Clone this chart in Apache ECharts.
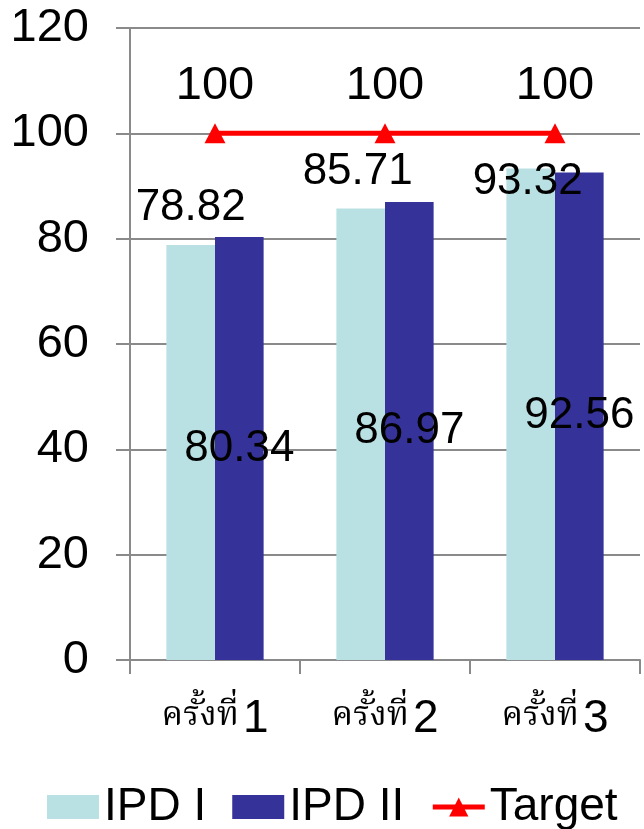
<!DOCTYPE html>
<html>
<head>
<meta charset="utf-8">
<script src="https://cdn.jsdelivr.net/npm/echarts@6/dist/echarts.min.js"></script>
<style>
  html, body { margin: 0; padding: 0; background: #ffffff; }
  #chart { width: 644px; height: 829px; }
</style>
</head>
<body>
<div id="chart"></div>
<script>
// Round labels and the three series plotted per round
const categories = ['ครั้งที่ 1', 'ครั้งที่ 2', 'ครั้งที่ 3'];
const ipd1 = [78.82, 85.71, 93.32];
const ipd2 = [80.34, 86.97, 92.56];
const target = [100, 100, 100];
const yTicks = { min: 0, max: 120, interval: 20 };

const LATIN = '"Liberation Sans", Arial, sans-serif';
const THAI = '"Noto Serif Thai", "Noto Sans Thai", "Loma", "Garuda", serif';
const gridColor = '#8a8a8a';

// IPD I value labels sit above the bar, the last one dips onto the bar top
const ipd1LabelOffsets = [[0, 0], [-3, 0], [-3, 50]];

const chart = echarts.init(document.getElementById('chart'), null, { renderer: 'canvas' });

chart.setOption({
  animation: false,
  backgroundColor: '#ffffff',
  grid: { left: 130, right: 4, top: 28, bottom: 169, containLabel: false },
  legend: {
    left: 42,
    bottom: -6,
    itemWidth: 52,
    itemHeight: 24,
    itemGap: 26,
    textStyle: { fontFamily: LATIN, fontSize: 46, color: '#000000' },
    lineStyle: { width: 5 },
    data: [
      { name: 'IPD I', icon: 'rect' },
      { name: 'IPD II', icon: 'rect' },
      { name: 'Target' }
    ]
  },
  xAxis: {
    type: 'category',
    data: categories,
    boundaryGap: true,
    axisLine: { show: true, lineStyle: { color: gridColor, width: 2 } },
    axisTick: { show: true, length: 14, alignWithLabel: false, lineStyle: { color: gridColor, width: 2 } },
    axisLabel: {
      margin: 36,
      formatter: function (v) {
        const parts = v.split(' ');
        return '{t|' + parts[0] + '}{n|' + parts[1] + '}';
      },
      rich: {
        t: { fontFamily: THAI, fontSize: 34, color: '#000000', padding: [0, 4, 0, 0] },
        n: { fontFamily: LATIN, fontSize: 46, color: '#000000' }
      }
    }
  },
  yAxis: {
    type: 'value',
    min: yTicks.min,
    max: yTicks.max,
    interval: yTicks.interval,
    axisLine: { show: true, lineStyle: { color: gridColor, width: 2 } },
    axisTick: { show: true, length: 14, lineStyle: { color: gridColor, width: 2 } },
    splitLine: { show: true, lineStyle: { color: gridColor, width: 2 } },
    axisLabel: { margin: 41, fontFamily: LATIN, fontSize: 47, color: '#000000' }
  },
  series: [
    {
      name: 'IPD I',
      type: 'bar',
      barWidth: '28.6%',
      barGap: '0%',
      itemStyle: { color: '#b9e0e3' },
      data: ipd1.map(function (v, i) {
        return { value: v, label: { offset: ipd1LabelOffsets[i] } };
      }),
      label: {
        show: true,
        position: 'top',
        distance: 15,
        fontFamily: LATIN,
        fontSize: 44,
        color: '#000000'
      }
    },
    {
      name: 'IPD II',
      type: 'bar',
      barWidth: '28.6%',
      barGap: '0%',
      itemStyle: { color: '#353399' },
      data: ipd2,
      label: {
        show: true,
        position: 'inside',
        fontFamily: LATIN,
        fontSize: 44,
        color: '#000000'
      }
    },
    {
      name: 'Target',
      type: 'line',
      data: target,
      symbol: 'triangle',
      symbolSize: [21, 20],
      lineStyle: { color: '#ff0000', width: 5 },
      itemStyle: { color: '#ff0000' },
      label: {
        show: true,
        position: 'top',
        distance: 14,
        fontFamily: LATIN,
        fontSize: 47,
        color: '#000000'
      },
      z: 5
    }
  ]
});
</script>
</body>
</html>
